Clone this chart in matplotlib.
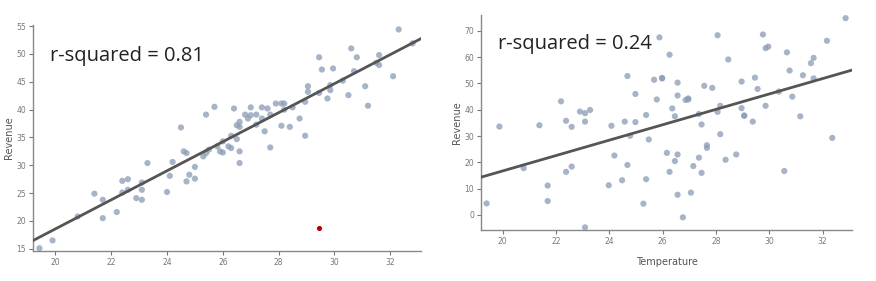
import numpy as np
import matplotlib
matplotlib.use('Agg')
import matplotlib.pyplot as plt

# temperature / revenue, panel 1 (strong fit)
temp_a = [19.43, 19.9, 20.8, 21.4, 21.7, 21.7, 22.2, 22.4, 22.6, 22.4, 22.6, 22.9, 23.1, 23.1, 23.1, 23.3,
          24.0, 24.1, 24.2, 24.5, 24.6, 24.7, 24.7, 24.8, 25.0, 25.0, 25.3, 25.4, 25.4, 25.5, 25.7,
          25.8, 25.9, 26.0, 26.0, 26.2, 26.3, 26.3, 26.4, 26.5, 26.5, 26.6, 26.6, 26.6, 26.6, 26.8,
          26.9, 27.0, 27.0, 27.2, 27.2, 27.4, 27.4, 27.5, 27.6, 27.7, 27.7, 27.9, 28.1, 28.1, 28.2,
          28.2, 28.4, 28.5, 28.75, 28.95, 28.95, 29.05, 29.05, 29.45, 29.45, 29.55, 29.75, 29.85,
          29.85, 29.95, 30.3, 30.5, 30.6, 30.7, 30.8, 31.1, 31.2, 31.5, 31.6, 31.6, 32.1, 32.3, 32.8]
rev_a = [15.1, 16.5, 20.8, 24.9, 23.8, 20.5, 21.6, 27.2, 27.5, 25.1, 25.6, 24.1, 26.9, 25.6, 23.8, 30.4,
         25.2, 28.1, 30.6, 36.8, 32.5, 32.2, 27.1, 28.3, 27.6, 29.7, 31.6, 32.2, 39.1, 32.8, 40.5,
         33.4, 32.5, 32.3, 34.3, 33.4, 33.1, 35.3, 40.2, 34.7, 37.2, 37.8, 36.9, 32.5, 30.4, 39.1,
         38.4, 40.4, 39.0, 39.1, 37.3, 40.4, 38.4, 36.1, 40.2, 33.2, 39.1, 41.1, 37.1, 41.1, 41.1,
         40.0, 36.9, 40.4, 38.4, 35.3, 41.4, 44.2, 43.2, 49.4, 43.0, 47.2, 42.0, 43.5,
         44.4, 47.4, 45.2, 42.6, 51.0, 46.9, 49.4, 44.2, 40.7, 48.4, 49.8, 48.0, 46.0, 54.4, 51.9]
outlier = (29.45, 18.8)

# panel 2 (weak fit)
temp_b = [19.40, 19.88, 20.79, 21.38, 21.69, 21.69, 22.19, 22.38, 22.38, 22.59, 22.59, 22.90, 23.09, 23.09,
          23.28, 23.09, 23.98, 24.08, 24.19, 24.48, 24.58, 24.68, 24.68, 24.78, 24.98, 24.98, 25.38,
          25.38, 25.28, 25.48, 25.68, 25.78, 25.88, 25.98, 25.98, 26.16, 26.26, 26.26, 26.36, 26.46,
          26.46, 26.56, 26.56, 26.56, 26.56, 26.76, 26.86, 26.96, 26.96, 27.06, 27.15, 27.36, 27.36,
          27.46, 27.46, 27.56, 27.66, 27.66, 27.86, 28.06, 28.06, 28.16, 28.16, 28.36, 28.46, 28.76,
          28.96, 28.96, 29.06, 29.06, 29.38, 29.46, 29.56, 29.76, 29.86, 29.86, 29.96, 30.36, 30.56,
          30.66, 30.76, 30.86, 31.16, 31.26, 31.56, 31.66, 31.66, 32.16, 32.36, 32.86]
rev_b = [4.4, 33.6, 17.8, 34.1, 11.2, 5.3, 43.2, 35.8, 16.4, 18.4, 33.5, 39.3, 38.7, 35.5,
         39.9, -4.7, 11.3, 33.9, 22.6, 13.2, 35.5, 52.8, 19.0, 30.1, 35.3, 46.0, 38.0,
         13.6, 4.3, 28.7, 51.4, 43.9, 67.5, 51.9, 52.1, 23.6, 60.9, 16.4, 40.5, 37.5,
         20.5, 50.3, 45.4, 23.0, 7.7, -0.9, 43.7, 44.3, 43.9, 8.5, 18.6, 21.8, 38.4,
         34.4, 16.0, 49.1, 26.5, 25.5, 48.3, 68.3, 39.2, 41.5, 30.7, 21.0, 59.1, 23.0,
         50.7, 40.6, 37.8, 37.7, 35.5, 52.2, 47.9, 68.6, 63.4, 41.5, 64.0, 46.9, 16.7,
         61.8, 54.9, 45.0, 37.5, 53.1, 57.7, 59.7, 51.9, 66.2, 29.3, 74.8]

labels = ['r-squared = 0.81', 'r-squared = 0.24']
xlims = [(19.2, 33.1), (19.19, 33.1)]
ylims = [(14.6, 55.2), (-5.7, 76)]
yticks = [[15, 20, 25, 30, 35, 40, 45, 50, 55], [0, 10, 20, 30, 40, 50, 60, 70]]

fig = plt.figure(figsize=(8.76, 2.81), dpi=100)
ax1 = fig.add_axes([33/876, 1 - 251/281, 388/876, 226/281])
ax2 = fig.add_axes([481/876, 1 - 230/281, 371/876, 215/281])

for ax, x, y, lab, xl, yl, yt in zip([ax1, ax2], [temp_a, temp_b], [rev_a, rev_b],
                                     labels, xlims, ylims, yticks):
    x = np.array(x)
    y = np.array(y)
    ax.scatter(x, y, s=20, color='#8a9bb6', alpha=0.75, edgecolors='none', zorder=2)
    k, b = np.polyfit(x, y, 1)
    xs = np.array(xl)
    ax.plot(xs, k * xs + b, color='#555555', lw=2, zorder=3)
    ax.set_xlim(xl)
    ax.set_ylim(yl)
    ax.set_xticks([20, 22, 24, 26, 28, 30, 32])
    ax.set_yticks(yt)
    for s in ['top', 'right']:
        ax.spines[s].set_visible(False)
    for s in ['left', 'bottom']:
        ax.spines[s].set_color('#888888')
        ax.spines[s].set_linewidth(1)
    ax.tick_params(labelsize=5.5, colors='#777777', length=3, width=0.8, pad=2)
    ax.set_ylabel('Revenue', fontsize=7, color='#555555', labelpad=2)
    ax.text(0.045, 0.84, lab, transform=ax.transAxes, fontsize=14.5,
            family='Open Sans', color='#222222')

ax1.scatter([outlier[0]], [outlier[1]], s=7, color='#b00000', zorder=4)
ax2.set_xlabel('Temperature', fontsize=7, color='#555555', labelpad=8)

fig.savefig('out.png', dpi=100)
